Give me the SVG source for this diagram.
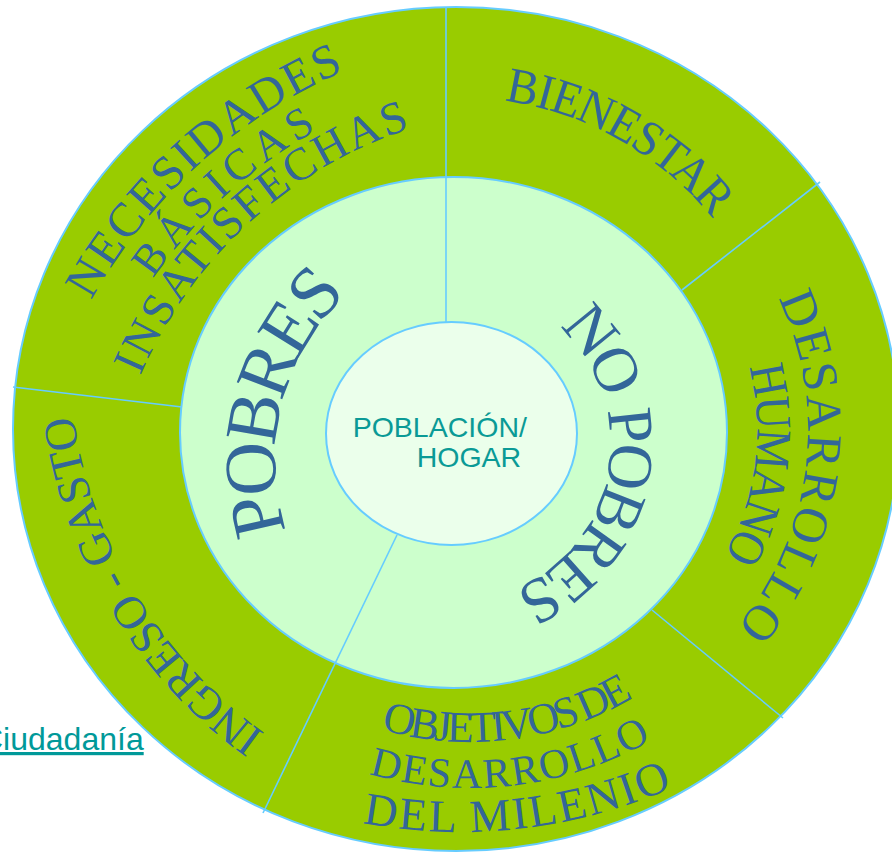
<svg xmlns="http://www.w3.org/2000/svg" width="892" height="852" viewBox="0 0 892 852">
<style>
.ring{stroke:#66CCFF;stroke-width:2}
.div{stroke:#66CCFF;stroke-width:1.6;fill:none}
.lbl{font-family:"Liberation Serif","Times New Roman",serif;fill:#336699;dominant-baseline:central;text-anchor:middle}
.ctr{font-family:"Liberation Sans",Arial,sans-serif;fill:#0A9A96;font-size:28.5px}
.link{font-family:"Liberation Sans",Arial,sans-serif;fill:#009999;font-size:32px;text-decoration:underline}
</style>
<defs>
<path id="p-bien" d="M416.8,82.2 A349,349 0 0 1 773.7,284.5"/>
<path id="p-nec" d="M25.6,423.2 A540,540 0 0 1 473,17.5"/>
<path id="p-bas" d="M76.8,400.1 A497,497 0 0 1 445,66.2"/>
<path id="p-ins" d="M92,491.7 A462,462 0 0 1 529.8,90.4"/>
<path id="p-des" d="M738.6,209.4 A325,325 0 0 1 675.8,703.3"/>
<path id="p-hum" d="M731.2,283 A274,274 0 0 1 684.9,632.2"/>
<path id="p-obj" d="M303.9,678.2 A307,307 0 0 0 695.4,628.4"/>
<path id="p-des2" d="M276.1,716.2 A354,354 0 0 0 728.1,662.3"/>
<path id="p-mil" d="M254.3,773.2 A516,516 0 0 0 766.9,714.8"/>
<path id="p-ing" d="M380.9,810.9 A485,485 0 0 1 58.8,277"/>
<path id="p-pob" d="M285,588.1 A252,252 0 0 1 373.9,243"/>
<path id="p-nop" d="M541.7,287.4 A180.5,180.5 0 0 1 484,621.6"/>
</defs>
<rect width="892" height="852" fill="#FFFFFF"/>
<g id="outer-ring"><ellipse cx="456" cy="429" rx="443" ry="422" fill="#99CC00" class="ring"/></g>
<g id="inner-ring"><ellipse cx="453.5" cy="432.5" rx="273.5" ry="255.5" fill="#CCFFCC" class="ring"/></g>
<g id="connectors">
<line class="div" x1="446" y1="7" x2="446" y2="322"/>
<line class="div" x1="682" y1="290" x2="820" y2="182"/>
<line class="div" x1="13" y1="387" x2="182" y2="407"/>
<line class="div" x1="652" y1="610" x2="783" y2="718"/>
<line class="div" x1="397" y1="535" x2="263" y2="813"/>
</g>
<g id="center">
<ellipse cx="451.5" cy="433.5" rx="125.5" ry="111.5" fill="#EBFFEB" class="ring"/>
<text class="ctr" x="352.7" y="436.7">POBLACIÓN/</text>
<text class="ctr" x="416.7" y="467.3">HOGAR</text>
</g>
<g id="bienestar"><text class="lbl" font-size="50"><textPath href="#p-bien" startOffset="50%" textLength="256" lengthAdjust="spacingAndGlyphs">BIENESTAR</textPath></text></g>
<g id="necesidades">
<text class="lbl" font-size="48"><textPath href="#p-nec" startOffset="50%" textLength="358">NECESIDADES</textPath></text>
<text class="lbl" font-size="44"><textPath href="#p-bas" startOffset="50%" textLength="229">BÁSICAS</textPath></text>
<text class="lbl" font-size="46"><textPath href="#p-ins" startOffset="50%" textLength="390">INSATISFECHAS</textPath></text>
</g>
<g id="desarrollo-humano">
<text class="lbl" font-size="50"><textPath href="#p-des" startOffset="50%" textLength="367">DESARROLLO</textPath></text>
<text class="lbl" font-size="50"><textPath href="#p-hum" startOffset="50%" textLength="206" lengthAdjust="spacingAndGlyphs">HUMANO</textPath></text>
</g>
<g id="objetivos">
<text class="lbl" font-size="44"><textPath href="#p-obj" startOffset="50%" textLength="251">OBJETIVOS DE</textPath></text>
<text class="lbl" font-size="42"><textPath href="#p-des2" startOffset="50%" textLength="282">DESARROLLO</textPath></text>
<text class="lbl" font-size="46"><textPath href="#p-mil" startOffset="50%" textLength="308">DEL MILENIO</textPath></text>
</g>
<g id="ingreso-gasto"><text class="lbl" font-size="46"><textPath href="#p-ing" startOffset="50%" textLength="394" lengthAdjust="spacingAndGlyphs">INGRESO - GASTO</textPath></text></g>
<g id="pobres"><text class="lbl" font-size="74"><textPath href="#p-pob" startOffset="50%" textLength="282" lengthAdjust="spacingAndGlyphs">POBRES</textPath></text></g>
<g id="no-pobres"><text class="lbl" font-size="64"><textPath href="#p-nop" startOffset="50%" textLength="355">NO POBRES</textPath></text></g>
<g id="link"><text class="link" x="-20" y="750">Ciudadanía</text></g>
</svg>
